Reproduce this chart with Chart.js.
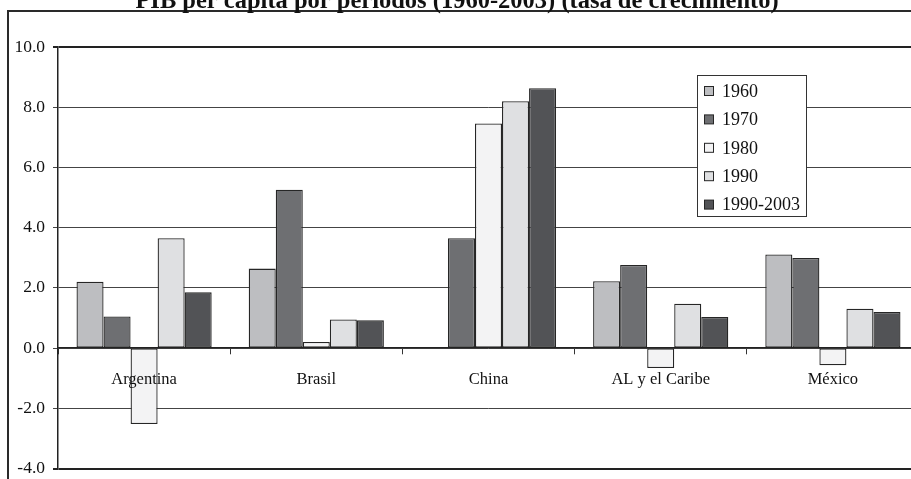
<!DOCTYPE html>
<html lang="es">
<head>
<meta charset="utf-8">
<title>PIB per cápita por períodos (1960-2003)</title>
<script src="https://cdn.jsdelivr.net/npm/chart.js@4.4.1/dist/chart.umd.min.js"></script>
<style>
  html, body { margin: 0; padding: 0; background: #fff; overflow: hidden; }
  #wrap { position: absolute; left: 0; top: 0; width: 930px; height: 479px; overflow: hidden; }
</style>
</head>
<body>
<div id="wrap"><canvas id="c" width="930" height="487"></canvas></div>
<script>
// Growth rates of GDP per capita by period (%)
const categories = ['Argentina', 'Brasil', 'China', 'AL y el Caribe', 'México'];
const seriesLabels = ['1960', '1970', '1980', '1990', '1990-2003'];
const v1960 = [2.2, 2.64, null, 2.22, 3.11];
const v1970 = [1.05, 5.26, 3.65, 2.76, 2.99];
const v1980 = [-2.52, 0.2, 7.46, -0.66, -0.57];
const v1990 = [3.65, 0.95, 8.2, 1.47, 1.31];
const v1990_2003 = [1.85, 0.92, 8.63, 1.03, 1.2];
const yTicks = [-4, -2, 0, 2, 4, 6, 8, 10];

const seriesValues = [v1960, v1970, v1980, v1990, v1990_2003];
const seriesColors = ['#bdbec1', '#6e6f72', '#f3f3f4', '#dfe0e2', '#525356'];
const edge = '#262626';
const serif = '"Liberation Serif", "Times New Roman", serif';
const titleText = 'PIB per cápita por períodos (1960-2003) (tasa de crecimiento)';

// Frame around the whole figure plus the title above it
const framePlugin = {
  id: 'frame',
  beforeDraw(chart) {
    const ctx = chart.ctx;
    ctx.save();
    ctx.fillStyle = '#fff';
    ctx.fillRect(0, 0, chart.width, chart.height);
    ctx.strokeStyle = '#2a2a2a';
    ctx.lineWidth = 2;
    ctx.strokeRect(8, 11, chart.width + 20, chart.height + 20);
    ctx.fillStyle = '#111';
    ctx.font = 'bold 24.5px ' + serif;
    ctx.textAlign = 'center';
    ctx.textBaseline = 'alphabetic';
    ctx.fillText(titleText, 457, 8);
    ctx.restore();
  }
};

// Boxed legend inside the plot area
const boxLegend = {
  id: 'boxLegend',
  afterDraw(chart) {
    const ctx = chart.ctx;
    const x = 697.5, y = 75.5, w = 109, h = 141;
    ctx.save();
    ctx.fillStyle = '#fff';
    ctx.fillRect(x, y, w, h);
    ctx.strokeStyle = '#333';
    ctx.lineWidth = 1;
    ctx.strokeRect(x, y, w, h);
    ctx.font = '18px ' + serif;
    ctx.textAlign = 'left';
    ctx.textBaseline = 'middle';
    chart.data.datasets.forEach((ds, i) => {
      const cy = 91 + i * 28.4;
      ctx.fillStyle = ds.backgroundColor;
      ctx.fillRect(704.5, cy - 4.5, 9, 9);
      ctx.strokeStyle = edge;
      ctx.strokeRect(704.5, cy - 4.5, 9, 9);
      ctx.fillStyle = '#111';
      ctx.fillText(ds.label, 722, cy + 1);
    });
    ctx.restore();
  }
};

new Chart(document.getElementById('c'), {
  type: 'bar',
  data: {
    labels: categories,
    datasets: seriesLabels.map((lab, i) => ({
      label: lab,
      data: seriesValues[i],
      backgroundColor: seriesColors[i],
      borderColor: edge,
      borderWidth: 1.3,
      borderSkipped: false,
      categoryPercentage: 0.785,
      barPercentage: 1.0
    }))
  },
  options: {
    responsive: false,
    animation: false,
    layout: { padding: { left: 0, right: 11, top: 47, bottom: 3 } },
    plugins: {
      legend: { display: false },
      title: { display: false },
      tooltip: { enabled: false }
    },
    scales: {
      x: {
        position: { y: 0 },
        offset: true,
        grid: {
          offset: true,
          drawOnChartArea: false,
          drawTicks: true,
          tickLength: 6,
          color: '#333',
          lineWidth: 1
        },
        border: { display: true, color: '#222', width: 1.3 },
        ticks: {
          z: 1,
          padding: 16,
          color: '#111',
          font: { family: serif, size: 16.5 }
        }
      },
      y: {
        min: -4,
        max: 10,
        afterFit(scale) { scale.width = 58; },
        afterBuildTicks(scale) { scale.ticks = yTicks.map(v => ({ value: v })); },
        grid: {
          color: ctx => (ctx.tick && (ctx.tick.value === 10 || ctx.tick.value === -4)) ? '#222' : '#444',
          lineWidth: ctx => (ctx.tick && (ctx.tick.value === 10 || ctx.tick.value === -4)) ? 2 : 1,
          tickLength: 5
        },
        border: { display: true, color: '#222', width: 1.5 },
        ticks: {
          padding: 8,
          color: '#111',
          font: { family: serif, size: 17.5 },
          callback: v => Number(v).toFixed(1)
        }
      }
    }
  },
  plugins: [framePlugin, boxLegend]
});
</script>
</body>
</html>
